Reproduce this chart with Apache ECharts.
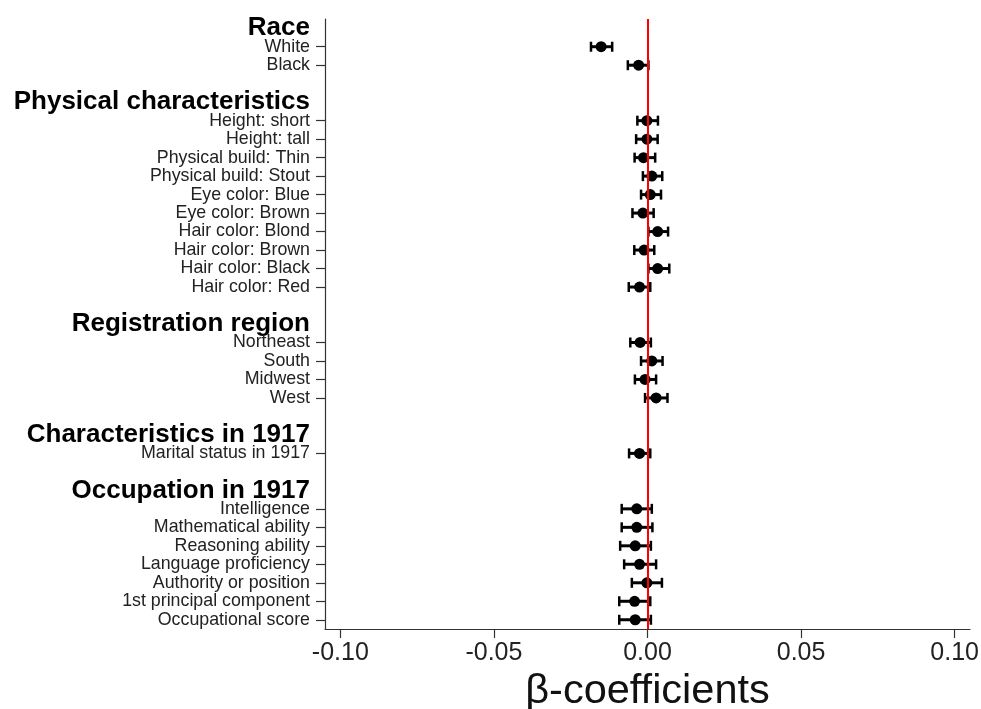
<!DOCTYPE html>
<html>
<head>
<meta charset="utf-8">
<script src="https://cdn.jsdelivr.net/npm/echarts@6/dist/echarts.min.js"></script>
<style>
  html, body { margin: 0; padding: 0; background: #fff; }
  #chart { width: 981px; height: 709px; }
</style>
</head>
<body>
<div id="chart"></div>
<script>
// rows from top to bottom; group headers and spacer rows have no estimate
var rows = ['Race', 'White', 'Black', ' ',
  'Physical characteristics', 'Height: short', 'Height: tall', 'Physical build: Thin',
  'Physical build: Stout', 'Eye color: Blue', 'Eye color: Brown', 'Hair color: Blond',
  'Hair color: Brown', 'Hair color: Black', 'Hair color: Red', '  ',
  'Registration region', 'Northeast', 'South', 'Midwest', 'West', '   ',
  'Characteristics in 1917', 'Marital status in 1917', '    ',
  'Occupation in 1917', 'Intelligence', 'Mathematical ability', 'Reasoning ability',
  'Language proficiency', 'Authority or position', '1st principal component', 'Occupational score']

var headers = ['Race', 'Physical characteristics', 'Registration region',
  'Characteristics in 1917', 'Occupation in 1917']

var est = [null, -0.0151, -0.0029, null,
  null, -0.0002, -0.0002, -0.0013, 0.0014, 0.0009, -0.0015, 0.0033, -0.0011, 0.0033, -0.0026, null,
  null, -0.0024, 0.0014, -0.0008, 0.0028, null,
  null, -0.0026, null,
  null, -0.0035, -0.0035, -0.0040, -0.0026, -0.0002, -0.0042, -0.0040]

var low = [null, -0.0184, -0.0064, null,
  null, -0.0033, -0.0037, -0.0042, -0.0015, -0.0021, -0.0049, 0.0003, -0.0043, 0.0003, -0.0061, null,
  null, -0.0056, -0.0021, -0.0041, -0.0008, null,
  null, -0.0060, null,
  null, -0.0084, -0.0084, -0.0089, -0.0076, -0.0051, -0.0092, -0.0092]

var high = [null, -0.0115, 0.0003, null,
  null, 0.0034, 0.0033, 0.0025, 0.0048, 0.0044, 0.0020, 0.0067, 0.0022, 0.0071, 0.0009, null,
  null, 0.0011, 0.0049, 0.0028, 0.0065, null,
  null, 0.0009, null,
  null, 0.0014, 0.0016, 0.0011, 0.0028, 0.0047, 0.0009, 0.0011]

var xTicks = [-0.10, -0.05, 0.00, 0.05, 0.10]

var pointData = []
var barData = []
for (var i = 0; i < rows.length; i++) {
  if (est[i] === null) continue
  pointData.push([est[i], i])
  barData.push([low[i], high[i], i])
}

var font = "'Liberation Sans', Arial, sans-serif"
var myChart = echarts.init(document.getElementById('chart'))

var option = {
  animation: false,
  grid: { left: 325, right: 11, top: 19, bottom: 80, outerBoundsMode: 'none', containLabel: false },
  xAxis: {
    type: 'value',
    min: -0.105,
    max: 0.105,
    name: 'β-coefficients',
    nameLocation: 'middle',
    nameGap: 38,
    nameTextStyle: { fontFamily: font, fontSize: 41.5, color: '#111' },
    axisLine: { show: true, onZero: false, lineStyle: { color: '#333', width: 1.2 } },
    axisTick: { show: true, length: 9, customValues: xTicks, lineStyle: { color: '#333', width: 1.2 } },
    axisLabel: {
      customValues: xTicks,
      margin: 12,
      fontFamily: font,
      fontSize: 25,
      color: '#222',
      formatter: function (v) { return v.toFixed(2) }
    },
    splitLine: { show: false }
  },
  yAxis: {
    type: 'category',
    inverse: true,
    data: rows,
    axisLine: { show: true, onZero: false, lineStyle: { color: '#333', width: 1.2 } },
    axisTick: {
      show: true,
      length: 9,
      alignWithLabel: true,
      interval: function (idx) { return est[idx] !== null },
      lineStyle: { color: '#333', width: 1.2 }
    },
    axisLabel: {
      interval: 0,
      margin: 15,
      formatter: function (v) {
        if (headers.indexOf(v) >= 0) return '{h|' + v + '}'
        if (v.trim() === '') return ''
        return '{i|' + v + '}'
      },
      rich: {
        h: { fontFamily: font, fontSize: 26, fontWeight: 'bold', color: '#000' },
        i: { fontFamily: font, fontSize: 17.8, color: '#222' }
      }
    },
    splitLine: { show: false }
  },
  series: [
    {
      // zero reference line
      type: 'scatter',
      data: [],
      z: 1,
      markLine: {
        silent: true,
        symbol: 'none',
        label: { show: false },
        lineStyle: { color: '#ff0000', width: 2, type: 'solid' },
        data: [{ xAxis: 0 }]
      }
    },
    {
      type: 'custom',
      z: 3,
      data: barData,
      encode: { x: [0, 1], y: 2 },
      renderItem: function (params, api) {
        var a = api.coord([api.value(0), api.value(2)])
        var b = api.coord([api.value(1), api.value(2)])
        var y = a[1]
        var h = 5
        return {
          type: 'group',
          children: [
            { type: 'line', shape: { x1: a[0], y1: y, x2: b[0], y2: y }, style: { stroke: '#000', lineWidth: 3 } },
            { type: 'line', shape: { x1: a[0], y1: y - h, x2: a[0], y2: y + h }, style: { stroke: '#000', lineWidth: 2.5 } },
            { type: 'line', shape: { x1: b[0], y1: y - h, x2: b[0], y2: y + h }, style: { stroke: '#000', lineWidth: 2.5 } }
          ]
        }
      }
    },
    {
      type: 'scatter',
      z: 4,
      data: pointData,
      symbol: 'circle',
      symbolSize: 11,
      itemStyle: { color: '#000', opacity: 1 }
    }
  ]
}

myChart.setOption(option)
</script>
</body>
</html>
